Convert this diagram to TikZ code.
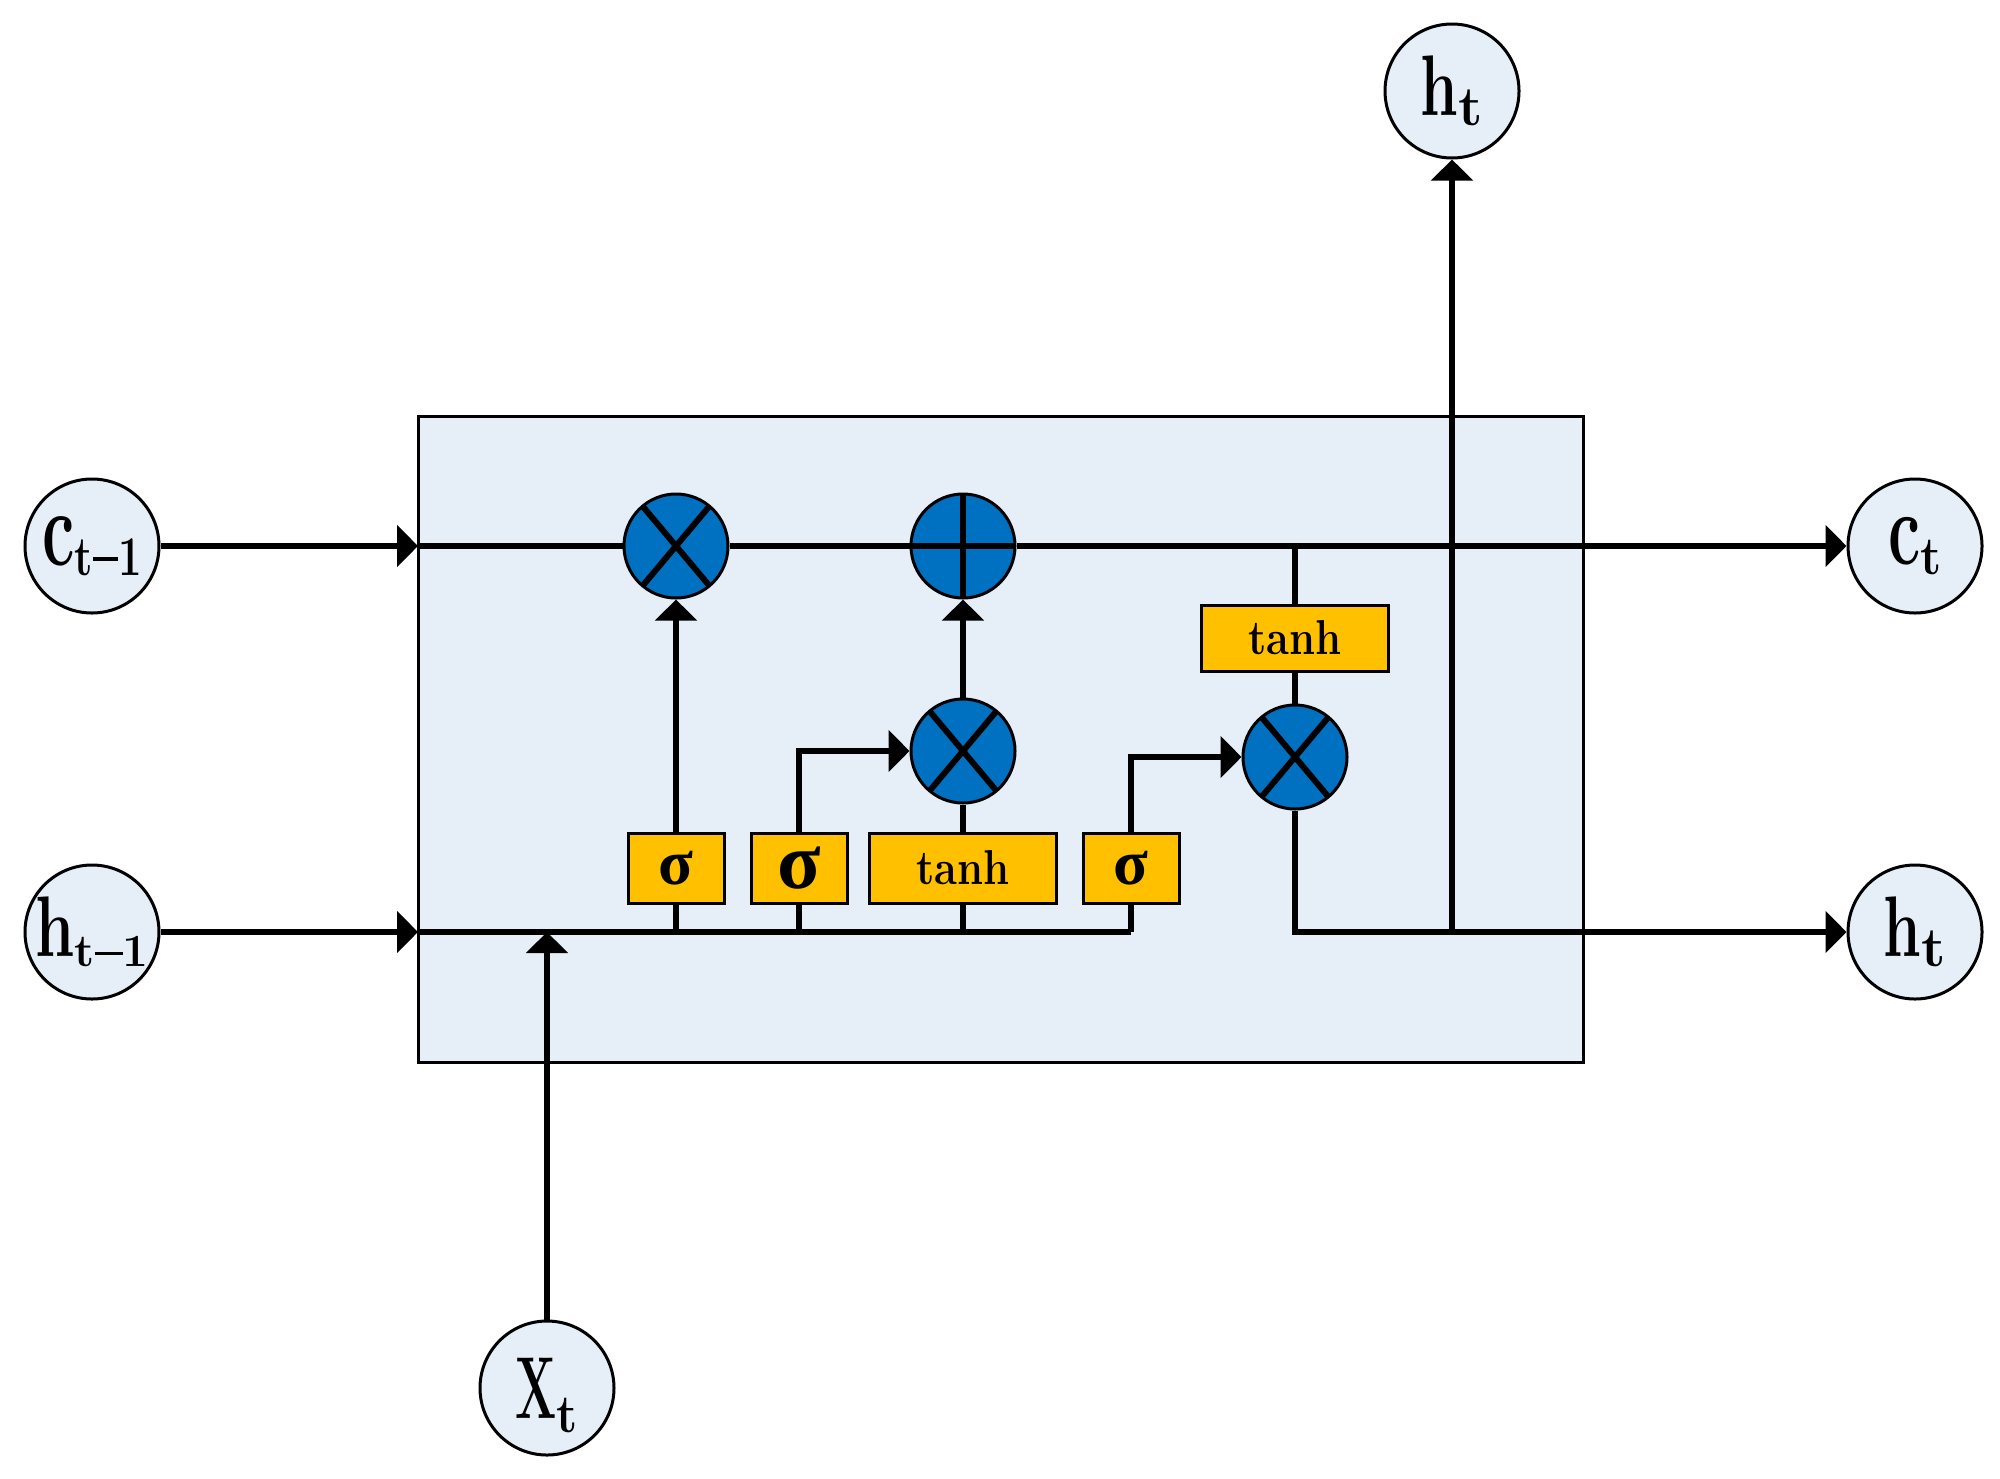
\documentclass[tikz,border=0pt]{standalone}
\usepackage{fontspec}
\newfontfamily\grk{Liberation Serif}
\usepackage{graphicx}
\usetikzlibrary{arrows.meta,calc}
\definecolor{cellbg}{RGB}{230,238,248}
\definecolor{gateblue}{RGB}{0,112,192}
\definecolor{actyellow}{RGB}{255,192,0}
% #1 main, #2 sub, #3 main size, #4 sub size, #5 main scale, #6 sub scale, #7 lowering
\newcommand{\sublab}[7]{{\bfseries\scalebox{#5}[1]{\fontsize{#3}{#3}\selectfont #1}\raisebox{-#7}{\scalebox{#6}[1]{\fontsize{#4}{#4}\selectfont #2}}}}
\newcommand{\mns}{\rule[0.25em]{0.6em}{0.07em}}
\newcommand{\sig}[1]{{\grk\bfseries\fontsize{#1}{#1}\selectfont σ}}
\tikzset{
  conn/.style={line width=3pt},
  arr/.style={line width=3pt,-{Triangle[length=10.5pt,width=20.5pt]}},
  io/.style={circle,draw,line width=1.5pt,fill=cellbg,minimum size=67pt,inner sep=0pt},
  gatex/.style={circle,draw,line width=1.5pt,fill=gateblue,minimum size=52pt,inner sep=0pt,
    path picture={\draw[line width=3pt]
      ([shift={(50:30pt)}]path picture bounding box.center) -- ([shift={(230:30pt)}]path picture bounding box.center)
      ([shift={(130:30pt)}]path picture bounding box.center) -- ([shift={(310:30pt)}]path picture bounding box.center);}},
  gatep/.style={circle,draw,line width=1.5pt,fill=gateblue,minimum size=52pt,inner sep=0pt,
    path picture={\draw[line width=3pt]
      ([shift={(90:30pt)}]path picture bounding box.center) -- ([shift={(270:30pt)}]path picture bounding box.center)
      ([shift={(0:30pt)}]path picture bounding box.center) -- ([shift={(180:30pt)}]path picture bounding box.center);}},
  act/.style={draw,line width=1.5pt,fill=actyellow,minimum height=35pt,minimum width=48pt,inner sep=0pt},
}
\begin{document}
\begin{tikzpicture}[x=0.5pt,y=-0.5pt]
\useasboundingbox (0,0) rectangle (2000,1478);
% cell box
\draw[line width=1.5pt,fill=cellbg] (418,416) rectangle (1583,1062);
% inputs / outputs
\node[io] (cprev) at (92,546) {\sublab{c}{t\mns1}{54}{28}{0.6}{0.75}{5pt}};
\node[io] (hprev) at (92,932) {\sublab{h}{t\mns1}{43}{23}{0.73}{1}{5pt}};
\node[io,text depth=0pt] (xt) at (547,1388) {\sublab{X}{t}{44}{27}{0.55}{0.9}{7pt}};
\node[io] (htop) at (1452,91) {\sublab{h}{t}{43}{28}{0.7}{1}{5pt}};
\node[io] (ct) at (1915,546) {\sublab{c}{t}{52}{27}{0.62}{0.9}{5pt}};
\node[io] (hout) at (1915,932) {\sublab{h}{t}{43}{28}{0.7}{1}{5pt}};
% gates
\node[gatex] (fg) at (676,546) {};
\node[gatep] (pg) at (963,546) {};
\node[gatex] (ig) at (963,751) {};
\node[gatex] (og) at (1295,757) {};
% activation boxes
\node[act] (s1) at (676,868) {\sig{32}};
\node[act] (s2) at (799,868) {\sig{40}};
\node[act,minimum width=93.5pt] (tn) at (963,868) {\scalebox{0.85}[1]{\bfseries\fontsize{24.5}{24.5}\selectfont tanh}};
\node[act] (s3) at (1131,868) {\sig{32}};
\node[act,minimum width=93.5pt,minimum height=33pt] (tn2) at (1295,638) {\scalebox{0.85}[1]{\bfseries\fontsize{24.5}{24.5}\selectfont tanh}};
% junction coordinates
\coordinate (cin) at (418,546);
\coordinate (hin) at (418,932);
% cell state line
\draw[arr] (cprev) -- (cin);
\draw[conn] (cin) -- (fg);
\draw[conn] (fg) -- (pg);
\draw[arr] (pg) -- (ct);
% hidden input line
\draw[arr] (hprev) -- (hin);
\draw[conn] (hin) -- (s3.south |- hin);
\draw[arr] (xt) -- (xt |- hin);
\draw[conn] (s1.south) -- (s1.south |- hin);
\draw[conn] (s2.south) -- (s2.south |- hin);
\draw[conn] (tn.south) -- (tn.south |- hin);
\draw[conn] (s3.south) -- (s3.south |- hin);
% gate connections
\draw[arr] (s1) -- (fg);
\draw[arr] (s2.north) |- (ig.west);
\draw[conn] (tn) -- (ig);
\draw[arr] (ig) -- (pg);
\draw[arr] (s3.north) |- (og.west);
\draw[conn] (tn2.north) -- (tn2.north |- cin);
\draw[conn] (tn2) -- (og);
\draw[arr] (og.south) |- (hout.west);
\draw[arr] (htop |- hout) -- (htop);
\end{tikzpicture}
\end{document}
